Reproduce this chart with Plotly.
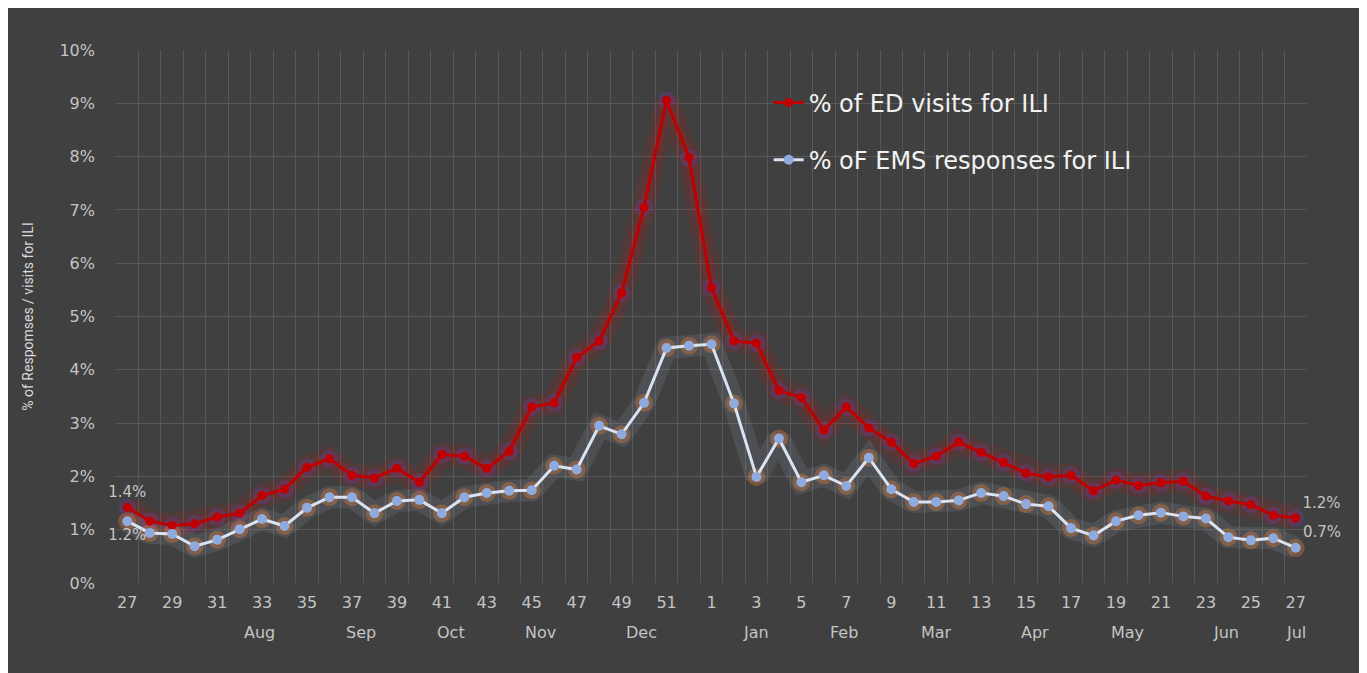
import plotly.graph_objects as go

# ---------------- data ----------------
weeks = list(range(27, 53)) + list(range(1, 28))

ed_visits = [1.42, 1.16, 1.08, 1.11, 1.24, 1.31, 1.64, 1.76, 2.17, 2.33,
             2.02, 1.97, 2.15, 1.89, 2.41, 2.38, 2.15, 2.47, 3.30, 3.38,
             4.23, 4.54, 5.44, 7.05, 9.06, 7.98, 5.54, 4.54, 4.50, 3.61,
             3.48, 2.87, 3.30, 2.91, 2.64, 2.24, 2.38, 2.64, 2.45, 2.26,
             2.06, 1.99, 2.02, 1.73, 1.93, 1.83, 1.88, 1.91, 1.63, 1.54,
             1.47, 1.27, 1.22]

ems_resp = [1.16, 0.94, 0.92, 0.69, 0.81, 1.01, 1.20, 1.07, 1.41, 1.61,
            1.61, 1.31, 1.54, 1.56, 1.31, 1.61, 1.69, 1.73, 1.74, 2.20,
            2.13, 2.95, 2.79, 3.38, 4.41, 4.45, 4.48, 3.37, 1.99, 2.71,
            1.89, 2.02, 1.82, 2.35, 1.76, 1.52, 1.52, 1.55, 1.69, 1.63,
            1.48, 1.44, 1.03, 0.89, 1.16, 1.27, 1.32, 1.25, 1.21, 0.86,
            0.80, 0.84, 0.66]

month_labels = ["Aug", "Sep", "Oct", "Nov", "Dec", "Jan", "Feb", "Mar",
                "Apr", "May", "Jun", "Jul"]
month_pos = [5.9, 10.4, 14.4, 18.4, 22.9, 28.0, 31.9, 36.0, 40.4, 44.5,
             48.9, 52.0]

y_ticks = list(range(0, 11))
y_tick_text = [f"{v}%" for v in y_ticks]

name_ed = "% of ED visits for ILI"
name_ems = "% oF EMS responses for ILI"

# ---------------- figure ----------------
idx = list(range(len(weeks)))
n = len(idx)

def end_labels(vals):
    return [f"{v:.1f}%" if i in (0, n - 1) else "" for i, v in enumerate(vals)]

FONT = "DejaVu Sans, Verdana, sans-serif"
LBL = "#c4c4c4"

fig = go.Figure()

# red glow
fig.add_trace(go.Scatter(x=idx, y=ed_visits, mode="lines",
                         line=dict(color="rgba(200,20,20,0.13)", width=24),
                         hoverinfo="skip", showlegend=False))
fig.add_trace(go.Scatter(x=idx, y=ed_visits, mode="lines",
                         line=dict(color="rgba(200,20,20,0.18)", width=12),
                         hoverinfo="skip", showlegend=False))
fig.add_trace(go.Scatter(x=idx, y=ed_visits, mode="markers",
                         marker=dict(color="rgba(110,60,170,0.28)", size=18,
                                     line=dict(width=0)),
                         hoverinfo="skip", showlegend=False))
# blue glow
fig.add_trace(go.Scatter(x=idx, y=ems_resp, mode="lines",
                         line=dict(color="rgba(170,185,205,0.13)", width=22),
                         hoverinfo="skip", showlegend=False))
fig.add_trace(go.Scatter(x=idx, y=ems_resp, mode="markers",
                         marker=dict(color="rgba(230,130,60,0.35)", size=18,
                                     line=dict(width=0)),
                         hoverinfo="skip", showlegend=False))

# main series
fig.add_trace(go.Scatter(
    x=idx, y=ed_visits, name=name_ed, legendgroup="ed",
    mode="lines+markers+text",
    line=dict(color="#c00000", width=3),
    marker=dict(color="#c00000", size=9),
    text=end_labels(ed_visits),
    textposition=["top center"] + ["top center"] * (n - 2) + ["top right"],
    textfont=dict(family=FONT, size=15, color=LBL),
    cliponaxis=False,
))
fig.add_trace(go.Scatter(
    x=idx, y=ems_resp, name=name_ems, legendgroup="ems",
    mode="lines+markers+text",
    line=dict(color="#dae3f3", width=3),
    marker=dict(color="#8faadc", size=10),
    text=end_labels(ems_resp),
    textposition=["bottom center"] + ["top center"] * (n - 2) + ["top right"],
    textfont=dict(family=FONT, size=15, color=LBL),
    cliponaxis=False,
))

# month labels (second row of category axis)
for lab, pos in zip(month_labels, month_pos):
    fig.add_annotation(x=pos, y=-0.092, xref="x", yref="paper", text=lab,
                       showarrow=False, font=dict(family=FONT, size=16, color=LBL),
                       xanchor="center", yanchor="middle")

fig.update_layout(
    width=1367, height=673,
    margin=dict(l=108, r=68, t=42, b=98),
    paper_bgcolor="#404040",
    plot_bgcolor="#404040",
    font=dict(family=FONT, color=LBL),
    showlegend=True,
    legend=dict(x=0.548, y=0.943, xanchor="left", yanchor="top",
                bgcolor="rgba(0,0,0,0)", traceorder="grouped",
                tracegroupgap=23,
                font=dict(family=FONT, size=24, color="#f2f2f2")),
    xaxis=dict(range=[-0.5, 52.5], tickmode="array",
               tickvals=idx[::2], ticktext=[str(w) for w in weeks[::2]],
               showgrid=False, zeroline=False, showline=False, ticks="",
               ticklabelstandoff=8,
               tickfont=dict(family=FONT, size=16, color=LBL),
               minor=dict(tickmode="linear", tick0=-0.5, dtick=1,
                          showgrid=True, gridcolor="#585858", gridwidth=1,
                          ticks="")),
    yaxis=dict(range=[0, 10], tickmode="array", tickvals=y_ticks,
               ticktext=y_tick_text,
               showgrid=True, gridcolor="#585858", gridwidth=1,
               zeroline=False, showline=False, ticks="",
               ticklabelstandoff=20,
               tickfont=dict(family=FONT, size=16, color=LBL),
               title=dict(text="% of Respomses / visits for ILI", standoff=22,
                          font=dict(family="Liberation Sans Narrow, Arial Narrow, Roboto",
                                    size=14, color="#d9d9d9"))),
)

fig.write_html("out.html")
